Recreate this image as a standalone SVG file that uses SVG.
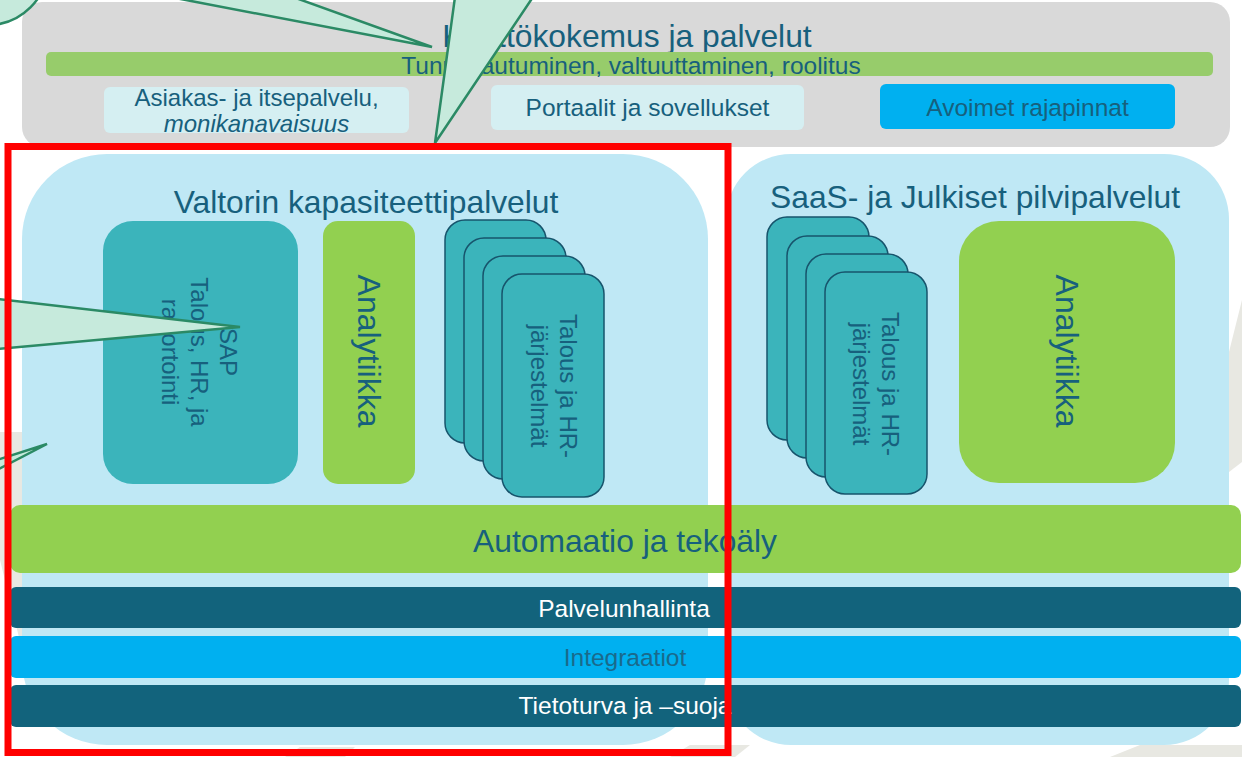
<svg xmlns="http://www.w3.org/2000/svg" width="1242" height="757" viewBox="0 0 1242 757">
<defs>
<style>
text{font-family:"Liberation Sans",Arial,sans-serif}
.dk{fill:#17607d}
.wh{fill:#ffffff}
.bg{fill:#e8e8e2}
.panel{fill:#bfe8f5}
.lc{fill:#d5eff2}
.card{fill:#3bb4bb;stroke:#17546c;stroke-width:1.5}
.teal{fill:#3bb4bb}
.grn{fill:#92d050}
.dbar{fill:#12637c}
.bbar{fill:#00b0f0}
.call{fill:#c6eadc;stroke:#2b8a65;stroke-width:2.5;stroke-linejoin:miter}
</style>
</defs>
<rect x="0" y="0" width="1242" height="757" fill="#ffffff"/>
<g id="background">
<polygon class="bg" points="1242,300 1242,462 1229,472 1229,352"/>
<polygon class="bg" points="1110,757 1140,745 1242,745 1242,757"/>
<polygon class="bg" points="670,757 690,745 750,745 735,757"/>
<polygon class="bg" points="285,757 300,747 355,747 345,757"/>
<path class="bg" d="M0,432 L22,432 L22,650 Q10,600 0,560 Z"/>
</g>
<g id="top-panel">
<rect x="22" y="2" width="1208" height="145" rx="20" fill="#d9d9d9"/>
<text class="dk" x="627" y="47" font-size="31.8" text-anchor="middle">Käyttökokemus ja palvelut</text>
</g>
<g id="auth-bar">
<rect x="46" y="52" width="1167" height="24" rx="5" fill="#97cc6b"/>
<text class="dk" x="631" y="74" font-size="24.5" text-anchor="middle">Tunnistautuminen, valtuuttaminen, roolitus</text>
</g>
<g id="asiakas">
<rect class="lc" x="104" y="87" width="305" height="46" rx="6"/>
<text class="dk" x="256.5" y="106" font-size="24" text-anchor="middle">Asiakas- ja itsepalvelu,</text>
<text class="dk" x="256.5" y="132" font-size="24" font-style="italic" text-anchor="middle">monikanavaisuus</text>
</g>
<g id="portaalit">
<rect class="lc" x="491" y="85" width="313" height="45" rx="6"/>
<text class="dk" x="647.5" y="116" font-size="24.5" text-anchor="middle">Portaalit ja sovellukset</text>
</g>
<g id="avoimet">
<rect x="880" y="84" width="295" height="45" rx="6" fill="#00b0f0"/>
<text class="dk" x="1027.5" y="116" font-size="24.5" text-anchor="middle">Avoimet rajapinnat</text>
</g>
<g id="valtori-panel">
<rect class="panel" x="22" y="154" width="686" height="591" rx="85" ry="85"/>
<text class="dk" x="366" y="213" font-size="31.8" text-anchor="middle">Valtorin kapasiteettipalvelut</text>
</g>
<g id="saas-panel">
<rect class="panel" x="726" y="154" width="503" height="591" rx="65" ry="65"/>
<text class="dk" x="975" y="208" font-size="31.8" text-anchor="middle">SaaS- ja Julkiset pilvipalvelut</text>
</g>
<g id="sap">
<rect class="teal" x="103" y="221" width="195" height="263" rx="30"/>
<text class="dk" font-size="24" text-anchor="middle" transform="translate(220,352) rotate(90)"><tspan x="0" y="0">SAP</tspan><tspan x="0" dy="28.8">Talous, HR, ja</tspan><tspan x="0" dy="28.8">raportointi</tspan></text>
</g>
<g id="analytiikka-left">
<rect class="grn" x="323" y="221" width="92" height="263" rx="15"/>
<text class="dk" font-size="32" text-anchor="middle" transform="translate(358,351) rotate(90)">Analytiikka</text>
</g>
<g id="talous-left">
<rect class="card" x="445" y="220" width="101" height="223" rx="20"/>
<rect class="card" x="464" y="238" width="102" height="223" rx="20"/>
<rect class="card" x="483" y="256" width="102" height="223" rx="20"/>
<rect class="card" x="502" y="274" width="102" height="223" rx="20"/>
<text class="dk" font-size="24" text-anchor="middle" transform="translate(560,386) rotate(90)"><tspan x="0" y="0">Talous ja HR-</tspan><tspan x="0" dy="28.8">järjestelmät</tspan></text>
</g>
<g id="talous-right">
<rect class="card" x="767" y="217" width="102" height="223" rx="20"/>
<rect class="card" x="787" y="236" width="101" height="222" rx="20"/>
<rect class="card" x="806" y="254" width="102" height="223" rx="20"/>
<rect class="card" x="825" y="272" width="102" height="222" rx="20"/>
<text class="dk" font-size="24" text-anchor="middle" transform="translate(882,384) rotate(90)"><tspan x="0" y="0">Talous ja HR-</tspan><tspan x="0" dy="28.8">järjestelmät</tspan></text>
</g>
<g id="analytiikka-right">
<rect class="grn" x="959" y="221" width="216" height="262" rx="40"/>
<text class="dk" font-size="32" text-anchor="middle" transform="translate(1056,351) rotate(90)">Analytiikka</text>
</g>
<g id="automaatio">
<rect class="grn" x="10" y="505" width="1231" height="68" rx="10"/>
<text class="dk" x="625" y="552" font-size="31.8" text-anchor="middle">Automaatio ja tekoäly</text>
</g>
<g id="palvelunhallinta">
<rect class="dbar" x="10" y="587" width="1231" height="41" rx="6"/>
<text class="wh" x="624" y="617" font-size="24.5" text-anchor="middle">Palvelunhallinta</text>
</g>
<g id="integraatiot">
<rect class="bbar" x="10" y="636" width="1231" height="42" rx="6"/>
<text x="625" y="666" font-size="24.5" text-anchor="middle" fill="#1a6a8c">Integraatiot</text>
</g>
<g id="tietoturva">
<rect class="dbar" x="10" y="685" width="1231" height="42" rx="6"/>
<text class="wh" x="625" y="714" font-size="24.5" text-anchor="middle">Tietoturva ja –suoja</text>
</g>
<g id="connectors">
<ellipse class="call" cx="-12" cy="-35" rx="60" ry="60"/>
<polygon class="call" points="170,-3 432,47 293,-3"/>
<polygon class="call" points="455,-3 435,143 533,-3"/>
<polygon class="call" points="-3,299 240,327 -3,349"/>
<polygon class="call" points="-3,460 47,444 -3,470"/>
</g>
<g id="highlight">
<rect x="8" y="146.5" width="720" height="606" fill="none" stroke="#ff0000" stroke-width="7"/>
</g>
</svg>
